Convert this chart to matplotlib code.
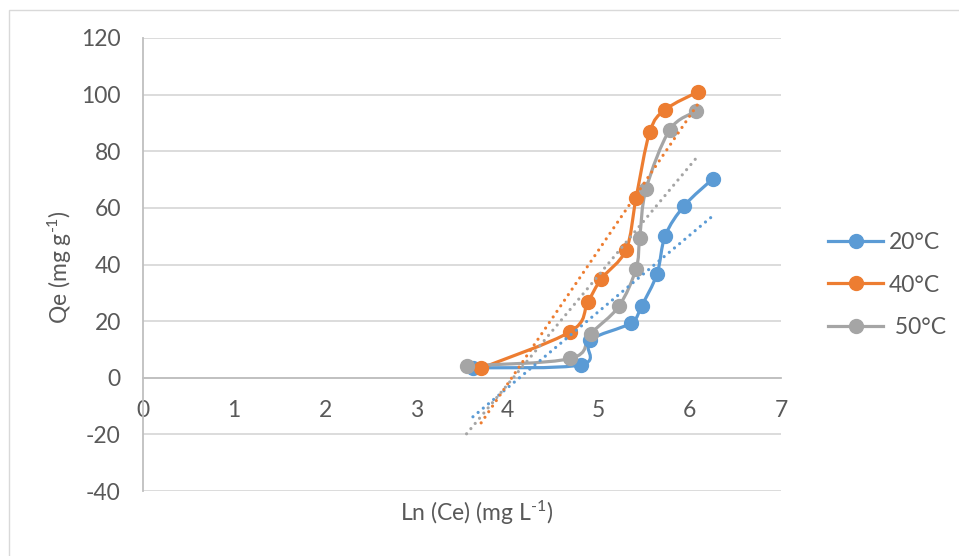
import numpy as np
import matplotlib
matplotlib.use("Agg")
import matplotlib.pyplot as plt
from matplotlib.path import Path
from matplotlib.patches import PathPatch, Rectangle
from matplotlib.lines import Line2D

plt.rcParams['font.family'] = ['Lato', 'DejaVu Sans']
plt.rcParams['axes.unicode_minus'] = False
plt.rcParams['mathtext.fontset'] = 'custom'
plt.rcParams['mathtext.rm'] = 'Lato'
plt.rcParams['mathtext.default'] = 'regular'

# Ln(Ce) and Qe for each temperature
x_20 = [3.62, 4.81, 4.90, 5.35, 5.47, 5.64, 5.73, 5.94, 6.25]
q_20 = [3.5, 4.6, 13.2, 19.3, 25.4, 36.7, 50.2, 60.8, 70.2]

x_40 = [3.71, 4.69, 4.88, 5.03, 5.30, 5.41, 5.56, 5.73, 6.09]
q_40 = [3.4, 16.3, 26.7, 35.0, 45.2, 63.5, 86.8, 94.7, 101.0]

x_50 = [3.55, 4.69, 4.91, 5.22, 5.41, 5.45, 5.52, 5.78, 6.07]
q_50 = [4.2, 6.8, 15.5, 25.2, 38.5, 49.4, 66.7, 87.6, 94.1]

labels = ["20°C", "40°C", " 50°C"]
colors = ["#5B9BD5", "#ED7D31", "#A5A5A5"]

x_ticks = [0, 1, 2, 3, 4, 5, 6, 7]
y_ticks = [-40, -20, 0, 20, 40, 60, 80, 100, 120]

text_col = "#595959"
grid_col = "#D9D9D9"
axis_col = "#BFBFBF"
fs = 16.5


def smooth_path(xs, ys):
    # bezier curve through the points, like a spreadsheet "smoothed line"
    p = np.column_stack([xs, ys])
    pts = np.vstack([p[0], p, p[-1]])
    verts = [p[0]]
    codes = [Path.MOVETO]
    for i in range(1, len(pts) - 2):
        c1 = pts[i] + (pts[i + 1] - pts[i - 1]) / 6
        c2 = pts[i + 1] - (pts[i + 2] - pts[i]) / 6
        verts += [c1, c2, pts[i + 1]]
        codes += [Path.CURVE4] * 3
    return Path(verts, codes)


W, H = 959, 556
fig = plt.figure(figsize=(W / 100, H / 100), dpi=100)
fig.patches.append(Rectangle((9 / W, -0.1), 1.2, 1 - 10 / H + 0.1, transform=fig.transFigure,
                             fill=False, edgecolor="#D9D9D9", linewidth=1))

ax = fig.add_axes([143 / W, (H - 491) / H, (781 - 143) / W, (491 - 38) / H])
ax.set_xlim(0, 7)
ax.set_ylim(-40, 120)
ax.set_xticks(x_ticks)
ax.set_yticks(y_ticks)

ax.grid(axis='y', color=grid_col, linewidth=1.3)
ax.set_axisbelow(True)
for s in ['top', 'right']:
    ax.spines[s].set_visible(False)
ax.spines['bottom'].set_position(('data', 0))
ax.spines['bottom'].set_color(axis_col)
ax.spines['bottom'].set_linewidth(1.3)
ax.spines['left'].set_color(axis_col)
ax.spines['left'].set_linewidth(1.3)
ax.tick_params(axis='both', length=0, labelsize=fs, labelcolor=text_col)
ax.tick_params(axis='x', pad=16)
ax.tick_params(axis='y', pad=16)

series = [(x_20, q_20), (x_40, q_40), (x_50, q_50)]
for (xs, ys), c in zip(series, colors):
    ax.add_patch(PathPatch(smooth_path(xs, ys), fill=False, edgecolor=c,
                           linewidth=2.3, capstyle='round', joinstyle='round', zorder=3))
    ax.plot(xs, ys, 'o', color=c, markersize=10, zorder=4)

# linear trendlines
for (xs, ys), c in zip(series, colors):
    k, b = np.polyfit(xs, ys, 1)
    xe = np.array([xs[0], xs[-1]])
    ax.plot(xe, k * xe + b, color=c, linewidth=2.3, linestyle=(0, (0.01, 2.1)),
            dash_capstyle='round', zorder=5)

fig.text(60 / W, (H - 267) / H, "Qe (mg g$^{\u20101}$)", rotation=90, ha='center', va='center',
         fontsize=fs, color=text_col)
fig.text(477 / W, (H - 513) / H, "Ln (Ce) (mg L$^{\u20101}$)", ha='center', va='center',
         fontsize=fs, color=text_col)

handles = [Line2D([0], [0], color=c, linewidth=2.3, marker='o', markersize=10) for c in colors]
leg = ax.legend(handles, labels, loc='center left', bbox_to_anchor=(828 / W, (H - 285) / H),
                bbox_transform=fig.transFigure, frameon=False, fontsize=fs, borderaxespad=0,
                borderpad=0, handlelength=2.4, handletextpad=0.25, labelspacing=0.95)
for t in leg.get_texts():
    t.set_color(text_col)

fig.savefig("out.png", dpi=100)
